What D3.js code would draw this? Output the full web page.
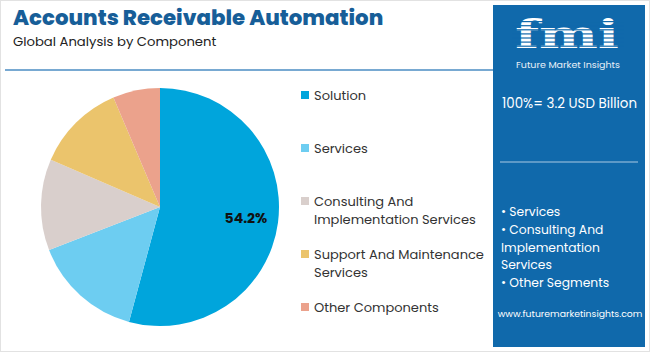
<!DOCTYPE html>
<html>
<head>
<meta charset="utf-8">
<script src="https://cdn.jsdelivr.net/npm/d3@7"></script>
<style>
 body { margin: 0; background: #fff; }
 svg { display: block; font-family: Poppins, "Noto Sans", sans-serif; }
</style>
</head>
<body>
<script>
// component shares (percent)
var components = ["Solution", "Services", "Consulting And Implementation Services", "Support And Maintenance Services", "Other Components"];
var shares = [54.2, 14.9, 12.4, 12.1, 6.4];
var colors = ["#00a5dc", "#6dcdf1", "#d9cfcc", "#ebc46c", "#eba28c"];
var legendLines = [["Solution"], ["Services"], ["Consulting And", "Implementation Services"], ["Support And Maintenance", "Services"], ["Other Components"]];
var bullets = ["• Services", "• Consulting And", "Implementation", "Services", "• Other Segments"];

var width = 650, height = 352;
var svg = d3.select("body").append("svg").attr("width", width).attr("height", height);

// page frame
svg.append("rect").attr("x", 0.5).attr("y", 0.5).attr("width", width - 1).attr("height", height - 1)
 .attr("fill", "#fff").attr("stroke", "#e2e2e2");

// titles
svg.append("text").attr("x", 13).attr("y", 25).text("Accounts Receivable Automation")
 .attr("font-size", 21.3).attr("font-weight", 800).attr("fill", "#175e98");
svg.append("text").attr("x", 13).attr("y", 46).text("Global Analysis by Component")
 .attr("font-size", 13.2).attr("fill", "#222");
svg.append("line").attr("x1", 5).attr("x2", 493).attr("y1", 70).attr("y2", 70)
 .attr("stroke", "#4b8cc3").attr("stroke-width", 1.5);

// pie
var cx = 160, cy = 207, r = 119;
var pie = d3.pie().sort(null).value(function (d) { return d; });
var arc = d3.arc().innerRadius(0).outerRadius(r);
var arcs = pie(shares);
var g = svg.append("g").attr("transform", "translate(" + cx + "," + cy + ")");
g.selectAll("path").data(arcs).enter().append("path")
 .attr("d", arc)
 .attr("fill", function (d, i) { return colors[i]; });

// only the largest slice is labelled
var labelArc = d3.arc().innerRadius(r * 0.72).outerRadius(r * 0.72);
var c = labelArc.centroid(arcs[0]);
g.append("text").attr("x", c[0] + 1).attr("y", c[1] + 5)
 .attr("text-anchor", "middle").attr("font-size", 14).attr("font-weight", 700).attr("fill", "#111")
 .text(shares[0].toFixed(1) + "%");

// legend
var legY = [95, 148, 201, 254, 307];
var leg = svg.append("g");
legendLines.forEach(function (lines, i) {
 leg.append("rect").attr("x", 301).attr("y", legY[i] - 4).attr("width", 8).attr("height", 8).attr("fill", colors[i]);
 lines.forEach(function (t, j) {
  leg.append("text").attr("x", 314).attr("y", legY[i] + 5 + j * 18).text(t)
   .attr("font-size", 13).attr("fill", "#333");
 });
});

// side panel
svg.append("rect").attr("x", 493).attr("y", 5).attr("width", 152).attr("height", 342).attr("fill", "#1069ab");
var logo = svg.append("g");
logo.append("text").attr("x", 515).attr("y", 48)
 .attr("font-family", "DejaVu Serif, serif").attr("font-size", 40).attr("font-weight", 700)
 .attr("textLength", 104).attr("lengthAdjust", "spacingAndGlyphs")
 .attr("fill", "#fff").text("fmi");
// stripes across the letters
for (var k = 0; k < 7; k++) {
 logo.append("rect").attr("x", 512).attr("y", 21 + k * 4.1).attr("width", 112).attr("height", 1.2).attr("fill", "#1069ab");
}
logo.append("text").attr("x", 568).attr("y", 68).attr("text-anchor", "middle")
 .attr("font-size", 9.5).attr("fill", "#e8f0f8").text("Future Market Insights");

svg.append("text").attr("x", 502).attr("y", 108).text("100%= 3.2 USD Billion")
 .attr("font-size", 13.4).attr("fill", "#fff");
svg.append("line").attr("x1", 500).attr("x2", 638).attr("y1", 162).attr("y2", 162)
 .attr("stroke", "#a9c9e4").attr("stroke-width", 1.2);
bullets.forEach(function (t, i) {
 svg.append("text").attr("x", 501).attr("y", 216 + i * 17.8).text(t)
  .attr("font-size", 12.3).attr("fill", "#fff");
});
svg.append("text").attr("x", 570).attr("y", 317).attr("text-anchor", "middle")
 .text("www.futuremarketinsights.com").attr("font-size", 9.3).attr("fill", "#fff");
</script>
</body>
</html>
